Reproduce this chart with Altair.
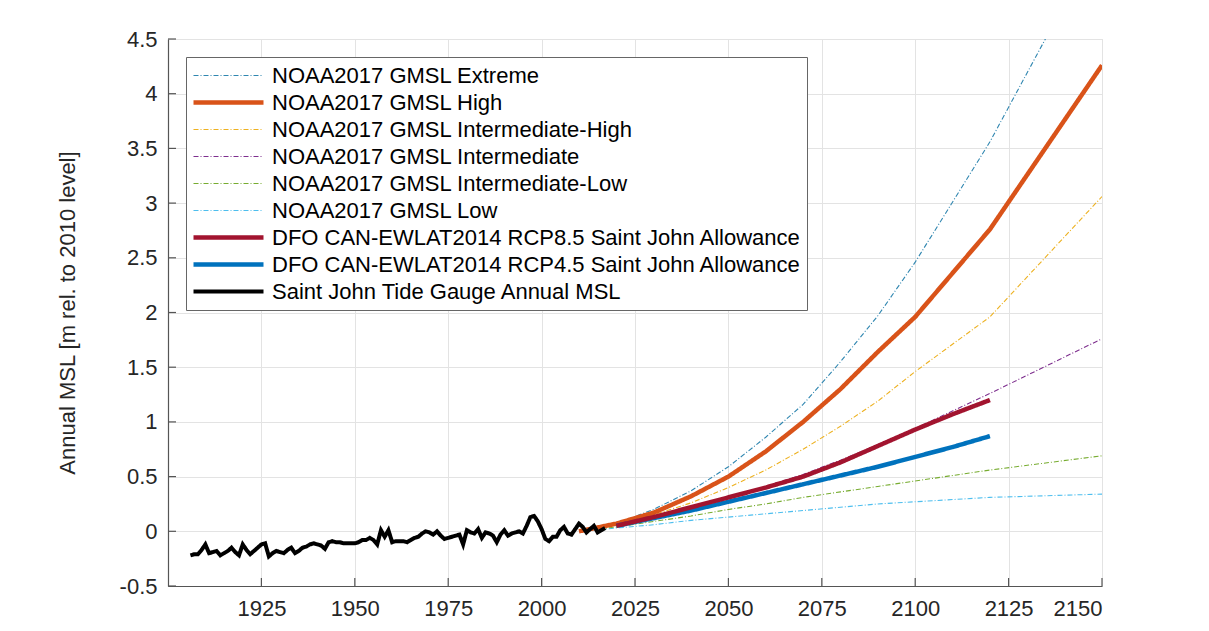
import altair as alt
import pandas as pd

# ---------------- data ----------------
series_names = [
    "NOAA2017 GMSL Extreme",
    "NOAA2017 GMSL High",
    "NOAA2017 GMSL Intermediate-High",
    "NOAA2017 GMSL Intermediate",
    "NOAA2017 GMSL Intermediate-Low",
    "NOAA2017 GMSL Low",
    "DFO CAN-EWLAT2014 RCP8.5 Saint John Allowance",
    "DFO CAN-EWLAT2014 RCP4.5 Saint John Allowance",
    "Saint John Tide Gauge Annual MSL",
]
series_colors = ["#2f86b0", "#D95319", "#EDB120", "#7E2F8E", "#77AC30",
                 "#4DBEEE", "#A2142F", "#0072BD", "#000000"]
series_widths = [1.1, 4.5, 1.1, 1.1, 1.1, 1.1, 4.5, 4.5, 4.0]
DD = [5, 2, 1, 2]
SOLID = [1, 0]
series_dashes = [DD, SOLID, DD, DD, DD, DD, SOLID, SOLID, SOLID]

noaa_years = [2010, 2020, 2030, 2040, 2050, 2060, 2070, 2080, 2090, 2100, 2120, 2150]
noaa_extreme = [0.0, 0.07, 0.20, 0.37, 0.59, 0.86, 1.16, 1.55, 1.97, 2.46, 3.56, 5.46]
noaa_high = [0.0, 0.07, 0.17, 0.32, 0.50, 0.73, 1.00, 1.30, 1.64, 1.96, 2.76, 4.26]
noaa_inthigh = [0.0, 0.06, 0.15, 0.26, 0.40, 0.56, 0.75, 0.96, 1.19, 1.46, 1.96, 3.06]
noaa_int = [0.0, 0.06, 0.12, 0.21, 0.30, 0.41, 0.52, 0.65, 0.79, 0.94, 1.26, 1.76]
noaa_intlow = [0.0, 0.04, 0.09, 0.14, 0.20, 0.25, 0.31, 0.36, 0.41, 0.46, 0.56, 0.69]
noaa_low = [0.0, 0.03, 0.06, 0.10, 0.13, 0.16, 0.19, 0.22, 0.25, 0.27, 0.31, 0.34]

dfo_years = [2020, 2030, 2040, 2050, 2060, 2070, 2080, 2090, 2100, 2110, 2120]
dfo_rcp85 = [0.05, 0.13, 0.22, 0.31, 0.40, 0.50, 0.63, 0.78, 0.93, 1.07, 1.20]
dfo_rcp45 = [0.05, 0.12, 0.19, 0.27, 0.35, 0.43, 0.51, 0.59, 0.68, 0.77, 0.87]

tide_years = list(range(1906, 2018))
tide_msl = [
    -0.22, -0.21, -0.21, -0.17, -0.12, -0.20, -0.19, -0.18, -0.22, -0.20,  # 1906-1915
    -0.18, -0.15, -0.19, -0.22, -0.12, -0.17, -0.21, -0.18, -0.15, -0.12,  # 1916-1925
    -0.11, -0.23, -0.20, -0.18, -0.19, -0.20, -0.17, -0.15, -0.20, -0.18,  # 1926-1935
    -0.15, -0.14, -0.12, -0.11, -0.12, -0.13, -0.16, -0.10, -0.09, -0.10,  # 1936-1945
    -0.10, -0.11, -0.11, -0.11, -0.11, -0.10, -0.08, -0.08, -0.06, -0.08,  # 1946-1955
    -0.12, 0.01, -0.05, 0.01, -0.10, -0.09, -0.09, -0.09, -0.10, -0.08,    # 1956-1965
    -0.06, -0.05, -0.02, 0.00, -0.01, -0.03, 0.00, -0.04, -0.07, -0.06,    # 1966-1975
    -0.05, -0.04, -0.03, -0.12, 0.01, -0.01, -0.02, 0.02, -0.06, -0.01,    # 1976-1985
    -0.02, -0.04, -0.10, -0.03, 0.01, -0.04, -0.02, -0.01, 0.00, -0.02,    # 1986-1995
    0.05, 0.13, 0.14, 0.09, 0.02, -0.07, -0.09, -0.05, -0.05, 0.01,        # 1996-2005
    0.04, -0.02, -0.03, 0.02, 0.07, 0.04, -0.01, 0.02, 0.05, -0.01,        # 2006-2015
    0.01, 0.03,                                                            # 2016-2017
]

x_ticks = [1925, 1950, 1975, 2000, 2025, 2050, 2075, 2100, 2125, 2150]
y_ticks = [-0.5, 0, 0.5, 1, 1.5, 2, 2.5, 3, 3.5, 4, 4.5]

# ---------------- table ----------------
rows = []
def add(name, years, vals):
    for i, (yr, v) in enumerate(zip(years, vals)):
        rows.append({"series": name, "year": yr, "msl": v, "order": i})

add(series_names[5], noaa_years, noaa_low)
add(series_names[4], noaa_years, noaa_intlow)
add(series_names[3], noaa_years, noaa_int)
add(series_names[2], noaa_years, noaa_inthigh)
add(series_names[0], noaa_years, noaa_extreme)
add(series_names[1], noaa_years, noaa_high)
add(series_names[7], dfo_years, dfo_rcp45)
add(series_names[6], dfo_years, dfo_rcp85)
add(series_names[8], tide_years, tide_msl)
df = pd.DataFrame(rows)

W, H = 934, 547
FONT = "Liberation Sans"

xscale = alt.Scale(domain=[1900, 2150], nice=False, zero=False)
yscale = alt.Scale(domain=[-0.5, 4.5], nice=False, zero=False)

legend = alt.Legend(
    title=None, orient="none", legendX=18, legendY=18,
    symbolType="stroke", symbolSize=4900, clipHeight=27,
    labelFont=FONT, labelFontSize=22, labelColor="#000000", labelOffset=6,
    strokeColor="#666666", fillColor="#ffffff", padding=5,
    rowPadding=0, labelLimit=800,
)

lines = alt.Chart(df).mark_line(clip=True).encode(
    x=alt.X("year:Q", scale=xscale,
            axis=alt.Axis(values=x_ticks, format="d", title=None, grid=True,
                          gridColor="#e3e3e3", ticks=False, labelPadding=12,
                          labelFontSize=22, labelFont=FONT, labelColor="#262626",
                          domainColor="#555555", domainWidth=1.2)),
    y=alt.Y("msl:Q", scale=yscale,
            axis=alt.Axis(values=y_ticks, title="Annual MSL [m rel. to 2010 level]",
                          labelExpr="'' + datum.value", grid=True,
                          gridColor="#e3e3e3", ticks=False, labelPadding=11,
                          labelFontSize=22, labelFont=FONT, labelColor="#262626",
                          domainColor="#555555", domainWidth=1.2,
                          titleFont=FONT, titleFontSize=22, titleFontWeight="normal",
                          titleColor="#262626", titleX=-101, titleY=H / 2,
                          titleAngle=270, titleAlign="center", titleBaseline="middle")),
    color=alt.Color("series:N", scale=alt.Scale(domain=series_names, range=series_colors),
                    legend=legend),
    strokeDash=alt.StrokeDash("series:N",
                              scale=alt.Scale(type="ordinal", domain=series_names, range=series_dashes),
                              legend=legend),
    strokeWidth=alt.StrokeWidth("series:N",
                                scale=alt.Scale(type="ordinal", domain=series_names, range=series_widths),
                                legend=legend),
    order="order:Q",
)

xt = pd.DataFrame({"v": x_ticks})
yt = pd.DataFrame({"v": y_ticks})
xticks = alt.Chart(xt).mark_rule(color="#555555", strokeWidth=1.2).encode(
    x=alt.X("v:Q", scale=xscale), y=alt.value(H), y2=alt.value(H - 8))
yticks = alt.Chart(yt).mark_rule(color="#555555", strokeWidth=1.2).encode(
    y=alt.Y("v:Q", scale=yscale), x=alt.value(0), x2=alt.value(8))

chart = alt.layer(xticks, yticks, lines).properties(
    width=W, height=H,
    autosize=alt.AutoSizeParams(type="none"),
    padding={"left": 160, "top": 31, "right": 90, "bottom": 37},
).configure_view(stroke=None).configure(background="#ffffff")

chart.save("out.html", embed_options={"renderer": "svg", "actions": False})
